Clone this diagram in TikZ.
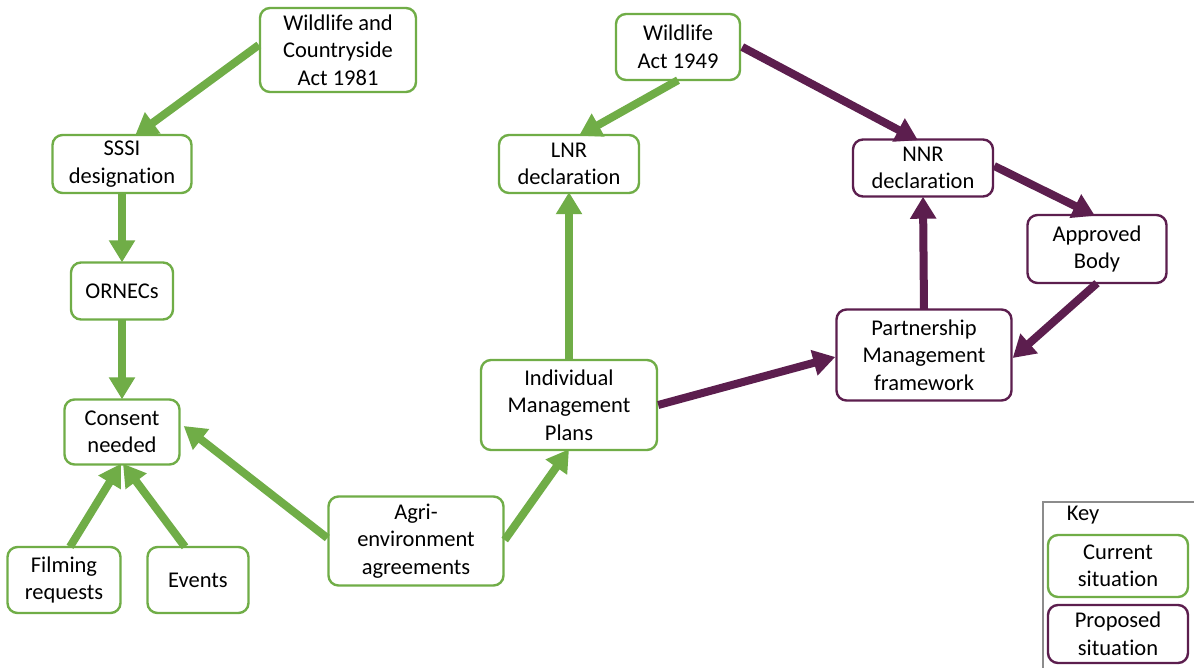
\documentclass[tikz,border=0pt]{standalone}
\usepackage{fontspec}
\setmainfont{Carlito}[RawFeature={-liga;-clig;-dlig;-calt}]
\usetikzlibrary{arrows.meta}
\definecolor{cgreen}{HTML}{70AD47}
\definecolor{cpurple}{HTML}{5C1E4E}
\definecolor{keygrey}{HTML}{8C8C8C}
\tikzset{
  txt/.style={font=\fontsize{22.5}{27.5}\selectfont},
  box/.style={draw, rounded corners=10pt, line width=2.4pt, fill=white, align=center,
    inner sep=0pt, txt},
  gbox/.style={box, draw=cgreen},
  pbox/.style={box, draw=cpurple},
  arr/.style={line width=8pt, -{Triangle[length=22pt,width=25pt]}},
  garr/.style={arr, draw=cgreen, fill=cgreen},
  parr/.style={arr, draw=cpurple, fill=cpurple},
}
\begin{document}
\begin{tikzpicture}[x=1pt,y=-1pt]
\useasboundingbox (0,0) rectangle (1194,668);
\fill[white] (0,0) rectangle (1194,668);

% key
\draw[keygrey, line width=1.5pt] (1194,502) -- (1043,502) -- (1043,668);
\node[txt] (keylabel) at (1083,515) {Key};
\node[gbox, minimum width=140pt, minimum height=62pt] (kcur) at (1118,566) {Current\\situation};
\node[pbox, minimum width=140pt, minimum height=58pt] (kprop) at (1118,634) {Proposed\\situation};

% nodes
\node[gbox, minimum width=156pt, minimum height=84pt] (wca) at (338,50) {Wildlife and\\Countryside\\Act 1981};
\node[gbox, minimum width=139pt, minimum height=58pt] (sssi) at (122,164) {SSSI\\designation};
\node[gbox, minimum width=102pt, minimum height=57pt] (ornec) at (122,291) {ORNECs};
\node[gbox, minimum width=115pt, minimum height=65pt] (consent) at (122,432) {Consent\\needed};
\node[gbox, minimum width=113pt, minimum height=66pt] (film) at (64,580) {Filming\\requests};
\node[gbox, minimum width=101pt, minimum height=66pt] (events) at (198,580) {Events};
\node[gbox, minimum width=175pt, minimum height=89pt] (agri) at (416,541) {Agri-\\environment\\agreements};
\node[gbox, minimum width=176pt, minimum height=90pt] (imp) at (569,405) {Individual\\Management\\Plans};
\node[gbox, minimum width=140pt, minimum height=58pt] (lnr) at (569,164) {LNR\\declaration};
\node[gbox, minimum width=124pt, minimum height=66pt] (wa) at (678,47) {Wildlife\\Act 1949};
\node[pbox, minimum width=140pt, minimum height=57pt] (nnr) at (923,168) {NNR\\declaration};
\node[pbox, minimum width=139pt, minimum height=68pt] (ab) at (1097,249) {Approved\\Body};
\node[pbox, minimum width=175pt, minimum height=91pt] (pmf) at (924,355) {Partnership\\Management\\framework};

% green arrows
\draw[garr] ([yshift=5pt]wca.west) -- ([xshift=13pt,yshift=-2pt]sssi.north);
\draw[garr] ([yshift=1pt]sssi.south) -- ([yshift=-1pt]ornec.north);
\draw[garr] ([yshift=1pt]ornec.south) -- ([yshift=-1pt]consent.south |- consent.north);
\draw[garr] ([xshift=6pt,yshift=-1pt]film.north) -- ([xshift=-1pt,yshift=2pt]consent.south);
\draw[garr] ([xshift=-13pt,yshift=-1pt]events.north) -- ([xshift=1pt,yshift=2pt]consent.south);
\draw[garr] ([yshift=3pt]agri.west) -- ([xshift=3pt,yshift=6pt]consent.east);
\draw[garr] ([yshift=1pt]agri.east) -- ([yshift=2pt]imp.south);
\draw[garr] ([yshift=-1pt]imp.north) -- ([yshift=2pt]lnr.south);
\draw[garr] ([yshift=1pt]wa.south) -- ([xshift=10pt,yshift=-2pt]lnr.north);

% purple arrows
\draw[parr] ([xshift=1pt]wa.east) -- ([xshift=-5pt,yshift=-2pt]nnr.north);
\draw[parr] ([yshift=2pt]nnr.east) -- ([xshift=-2pt,yshift=-2pt]ab.north);
\draw[parr] ([yshift=1pt]ab.south) -- ([yshift=-3pt]pmf.east);
\draw[parr] ([yshift=-1pt]pmf.north) -- ([yshift=1pt]nnr.south);
\draw[parr] (imp.east) -- ([yshift=-2pt]pmf.west);
\end{tikzpicture}
\end{document}
